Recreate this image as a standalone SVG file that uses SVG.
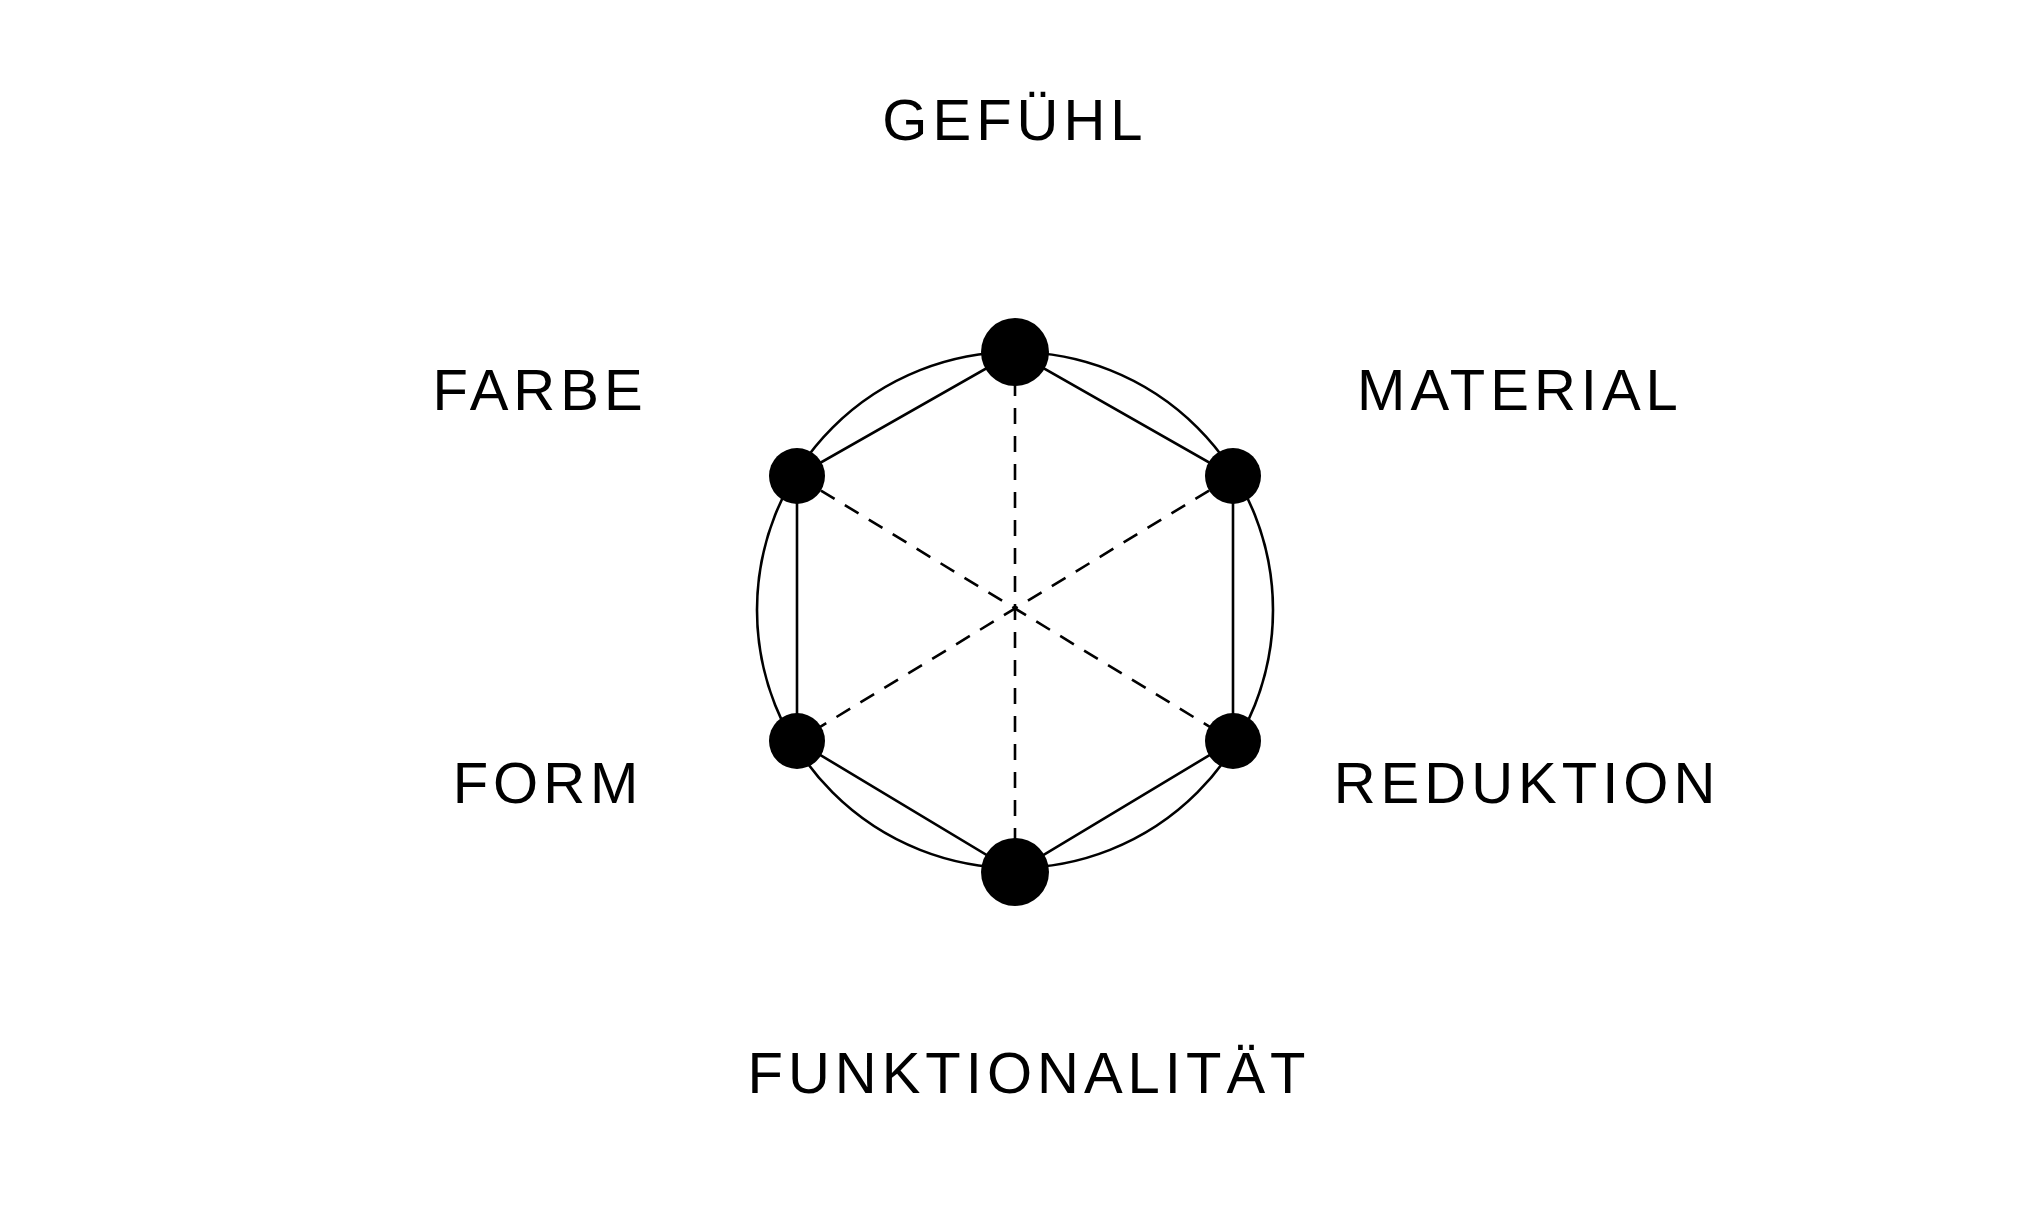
<svg xmlns="http://www.w3.org/2000/svg" width="2032" height="1220" viewBox="0 0 2032 1220">
<style>
text{font-family:"Liberation Sans",Arial,sans-serif;font-size:58px;letter-spacing:5px;fill:#000;text-anchor:middle}
.s{stroke:#000;stroke-width:2.6;fill:none}
.d{stroke:#000;stroke-width:2.6;stroke-dasharray:16 12;fill:none}
</style>
<rect width="2032" height="1220" fill="#fff"/>
<g id="connectors">
<circle class="s" cx="1015" cy="610" r="258"/>
<polygon class="s" points="1015,352 1233,476 1233,741 1015,872 797,741 797,476"/>
<line class="d" x1="1015" y1="352" x2="1015" y2="872"/>
<line class="d" x1="797" y1="476" x2="1233" y2="741"/>
<line class="d" x1="1233" y1="476" x2="797" y2="741"/>
</g>
<g id="n-top"><circle cx="1015" cy="352" r="34"/></g>
<g id="n-bottom"><circle cx="1015" cy="872" r="34"/></g>
<g id="n-tl"><circle cx="797" cy="476" r="28"/></g>
<g id="n-tr"><circle cx="1233" cy="476" r="28"/></g>
<g id="n-bl"><circle cx="797" cy="741" r="28"/></g>
<g id="n-br"><circle cx="1233" cy="741" r="28"/></g>
<g id="labels">
<text x="1015" y="140">GEFÜHL</text>
<text x="540" y="410">FARBE</text>
<text x="1520" y="410">MATERIAL</text>
<text x="548" y="803">FORM</text>
<text x="1527" y="803">REDUKTION</text>
<text x="1029" y="1093">FUNKTIONALITÄT</text>
</g>
</svg>
